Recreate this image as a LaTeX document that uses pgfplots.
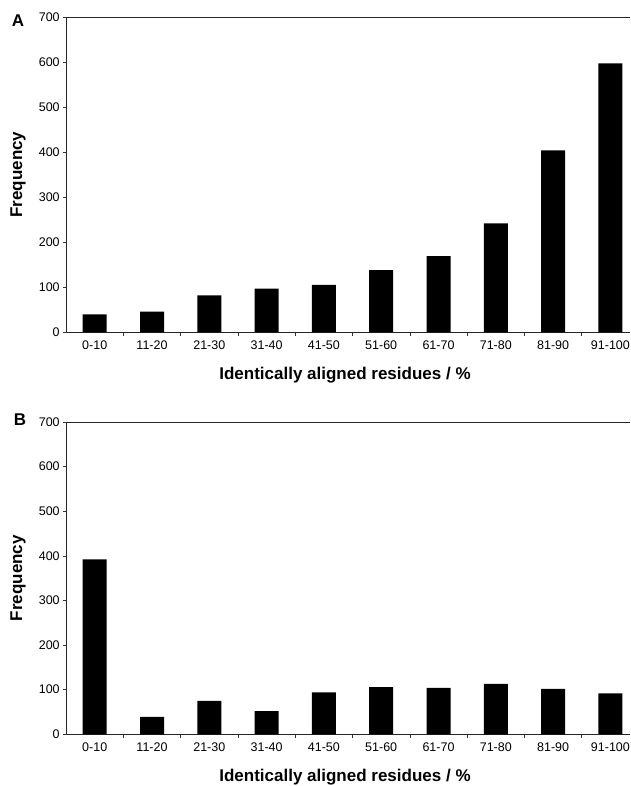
\documentclass[border=0pt]{standalone}
\usepackage{fontspec}
\setmainfont{Liberation Sans}
\usepackage{pgfplots}
\pgfplotsset{compat=1.18}
\begin{document}
\begin{tikzpicture}
\useasboundingbox (0pt,0pt) rectangle (630pt,786pt);
\pgfplotsset{panel/.style={
  scale only axis, width=563.3pt, anchor=south west,
  xmin=-0.489, xmax=9.342, ymin=0, ymax=700,
  axis x line=box, axis y line=left,
  axis line style={-, line width=0.8pt, black!85},
  tick align=outside, xtick pos=bottom, ytick pos=left,
  ytick={0,100,...,700},
  xtick={0.5,1.5,...,8.5}, xticklabels={},
  major tick length=3.5pt,
  tick style={black!80, line width=0.6pt},
  extra x ticks={0,1,...,9},
  extra x tick labels={0-10,11-20,21-30,31-40,41-50,51-60,61-70,71-80,81-90,91-100},
  extra x tick style={major tick length=0pt, tick style={draw=none}},
  /pgf/number format/assume math mode=true,
  ticklabel style={font=\fontsize{12.5}{13}\selectfont},
  xticklabel style={yshift=-5pt},
  ylabel={Frequency},
  xlabel={Identically aligned residues / \%},
  every axis y label/.style={at={(axis description cs:-0.0865,0.5)}, rotate=90, anchor=center,
     font=\bfseries\fontsize{17}{19}\selectfont},
  ybar, bar width=24pt,
}}
% Panel A
\begin{axis}[panel, at={(66.7pt,453.7pt)}, height=315.3pt,
  every axis x label/.style={at={(axis description cs:0.494,-0.1364)}, anchor=center,
     font=\bfseries\fontsize{17}{19}\selectfont}]
\addplot[fill=black, draw=none] coordinates {
(0,40) (1,46) (2,82) (3,97) (4,105) (5,138) (6,169) (7,242) (8,404) (9,597)};
\end{axis}
% Panel B
\begin{axis}[panel, at={(66.7pt,51.7pt)}, height=312.3pt,
  every axis x label/.style={at={(axis description cs:0.494,-0.1377)}, anchor=center,
     font=\bfseries\fontsize{17}{19}\selectfont}]
\addplot[fill=black, draw=none] coordinates {
(0,392) (1,39) (2,75) (3,52) (4,94) (5,106) (6,104) (7,113) (8,102) (9,92)};
\end{axis}
\node[font=\bfseries\fontsize{17}{18}\selectfont] at (18pt,765pt) {A};
\node[font=\bfseries\fontsize{17}{18}\selectfont] at (20pt,366pt) {B};
\end{tikzpicture}
\end{document}
